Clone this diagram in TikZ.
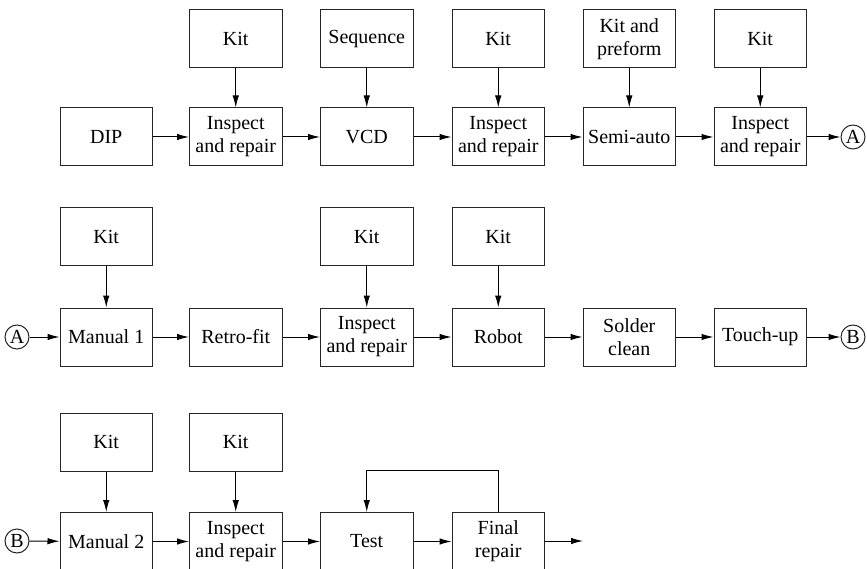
\documentclass[tikz,border=0pt]{standalone}
\usepackage{fontspec}
\setmainfont{Liberation Serif}
\usetikzlibrary{arrows.meta}
\begin{document}
\begin{tikzpicture}[x=1pt,y=-1pt,
  stepbox/.style={draw=black!85, line width=1pt, minimum width=92.5pt,
    minimum height=58pt, inner sep=0pt, align=center,
    font=\fontsize{20}{23}\selectfont},
  connector/.style={draw=black!85, line width=1pt, circle, minimum size=24pt,
    inner sep=0pt, font=\fontsize{20}{22}\selectfont},
  flow/.style={line width=1pt, -{Latex[length=12pt,width=6.5pt]}}]
\clip (0,0) rectangle (867,569);
\useasboundingbox (0,0) rectangle (867,569);

% Row 1
\node[stepbox] (dip) at (106.25,137) {DIP};
\node[stepbox] (ir1) at (235.75,137) {Inspect\\and repair};
\node[stepbox] (vcd) at (366.75,137) {VCD};
\node[stepbox] (ir2) at (498.25,137) {Inspect\\and repair};
\node[stepbox] (semi) at (629.25,137) {Semi-auto};
\node[stepbox] (ir3) at (760.25,137) {Inspect\\and repair};
\node[stepbox] (k1) at (235.75,39) {Kit};
\node[stepbox] (seq) at (366.75,39) {Sequence};
\node[stepbox] (k2) at (498.25,39) {Kit};
\node[stepbox] (kp) at (629.25,39) {Kit and\\preform};
\node[stepbox] (k3) at (760.25,39) {Kit};
\node[connector] (aout) at (853,137) {A};

\draw[flow] (dip) -- (ir1);
\draw[flow] (ir1) -- (vcd);
\draw[flow] (vcd) -- (ir2);
\draw[flow] (ir2) -- (semi);
\draw[flow] (semi) -- (ir3);
\draw[flow] (ir3) -- (aout);
\draw[flow] (k1) -- (ir1);
\draw[flow] (seq) -- (vcd);
\draw[flow] (k2) -- (ir2);
\draw[flow] (kp) -- (semi);
\draw[flow] (k3) -- (ir3);

% Row 2
\node[connector] (ain) at (17,337) {A};
\node[stepbox] (m1) at (106.25,337) {Manual 1};
\node[stepbox] (retro) at (235.75,337) {Retro-fit};
\node[stepbox] (ir4) at (366.75,337) {Inspect\\and repair};
\node[stepbox] (robot) at (498.25,337) {Robot};
\node[stepbox] (solder) at (629.25,337) {Solder\\clean};
\node[stepbox] (touch) at (760.25,337) {Touch-up};
\node[stepbox] (k4) at (106.25,236.5) {Kit};
\node[stepbox] (k5) at (366.75,236.5) {Kit};
\node[stepbox] (k6) at (498.25,236.5) {Kit};
\node[connector] (bout) at (853,337) {B};

\draw[flow] (ain) -- (m1);
\draw[flow] (m1) -- (retro);
\draw[flow] (retro) -- (ir4);
\draw[flow] (ir4) -- (robot);
\draw[flow] (robot) -- (solder);
\draw[flow] (solder) -- (touch);
\draw[flow] (touch) -- (bout);
\draw[flow] (k4) -- (m1);
\draw[flow] (k5) -- (ir4);
\draw[flow] (k6) -- (robot);

% Row 3 (runs off the lower edge)
\node[connector] (bin) at (17,541) {B};
\node[stepbox] (m2) at (106.25,541.5) {Manual 2};
\node[stepbox] (ir5) at (235.75,541.5) {Inspect\\and repair};
\node[stepbox] (test) at (366.75,541.5) {Test};
\node[stepbox] (final) at (498.25,541.5) {Final\\repair};
\node[stepbox] (k7) at (106.25,442) {Kit};
\node[stepbox] (k8) at (235.75,442) {Kit};
\coordinate (out) at (583,541);

\draw[flow] (bin) -- (m2);
\draw[flow] (m2) -- (ir5);
\draw[flow] (ir5) -- (test);
\draw[flow] (test) -- (final);
\draw[flow] (final.east |- out) -- (out);
\draw[flow] (k7) -- (m2);
\draw[flow] (k8) -- (ir5);
\draw[flow] (final.north) -- ++(0,-41.5) -| (test.north);
\end{tikzpicture}
\end{document}
